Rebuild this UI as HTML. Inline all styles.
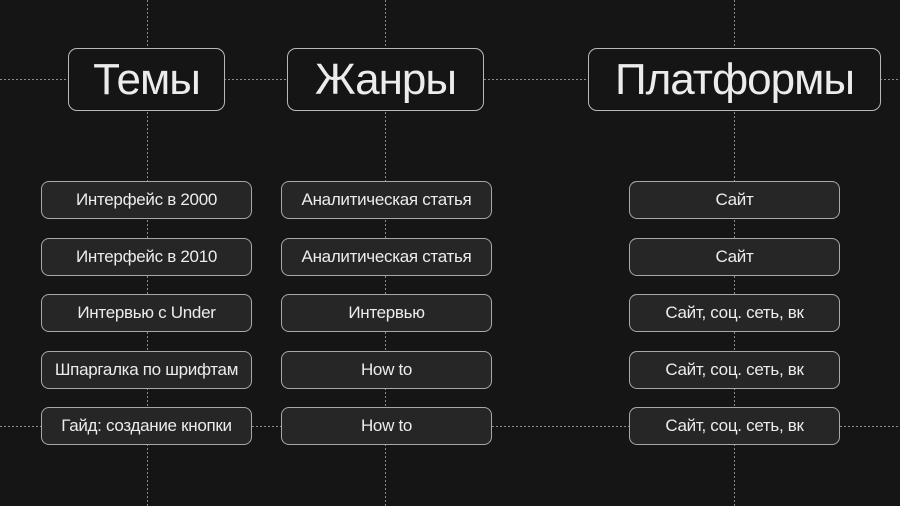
<!DOCTYPE html>
<html><head><meta charset="utf-8"><style>
html,body{margin:0;padding:0}
body{width:900px;height:506px;background:#151515;position:relative;overflow:hidden;font-family:"Liberation Sans","DejaVu Sans",sans-serif;color:#ececec}
svg{position:absolute;left:0;top:0}
.h{position:absolute;top:48px;height:61px;border:1px solid #b8b8b8;border-radius:9px;background:#151515;box-sizing:content-box;display:flex;align-items:center;justify-content:center;font-size:44px;letter-spacing:-1px}
.b{position:absolute;width:209px;height:36px;border:1px solid #a8a8a8;border-radius:8px;background:#262626;display:flex;align-items:center;justify-content:center;font-size:17px;letter-spacing:-0.3px}
</style></head><body>
<svg width="900" height="506">
<g stroke="#8a8a8a" stroke-width="1" stroke-dasharray="2,2">
<line x1="147.5" y1="0" x2="147.5" y2="506"/>
<line x1="385.5" y1="0" x2="385.5" y2="506"/>
<line x1="734.5" y1="0" x2="734.5" y2="506"/>
<line x1="0" y1="79.5" x2="900" y2="79.5"/>
<line x1="0" y1="426.5" x2="900" y2="426.5"/>
</g>
</svg>
<div class="h" style="left:68px;width:155px">Темы</div>
<div class="h" style="left:287px;width:195px">Жанры</div>
<div class="h" style="left:588px;width:291px">Платформы</div>

<div class="b" style="left:41px;top:181px">Интерфейс в 2000</div>
<div class="b" style="left:41px;top:238px">Интерфейс в 2010</div>
<div class="b" style="left:41px;top:294px">Интервью с Under</div>
<div class="b" style="left:41px;top:351px">Шпаргалка по шрифтам</div>
<div class="b" style="left:41px;top:407px">Гайд: создание кнопки</div>

<div class="b" style="left:281px;top:181px">Аналитическая статья</div>
<div class="b" style="left:281px;top:238px">Аналитическая статья</div>
<div class="b" style="left:281px;top:294px">Интервью</div>
<div class="b" style="left:281px;top:351px">How to</div>
<div class="b" style="left:281px;top:407px">How to</div>

<div class="b" style="left:629px;top:181px">Сайт</div>
<div class="b" style="left:629px;top:238px">Сайт</div>
<div class="b" style="left:629px;top:294px">Сайт, соц. сеть, вк</div>
<div class="b" style="left:629px;top:351px">Сайт, соц. сеть, вк</div>
<div class="b" style="left:629px;top:407px">Сайт, соц. сеть, вк</div>
</body></html>
